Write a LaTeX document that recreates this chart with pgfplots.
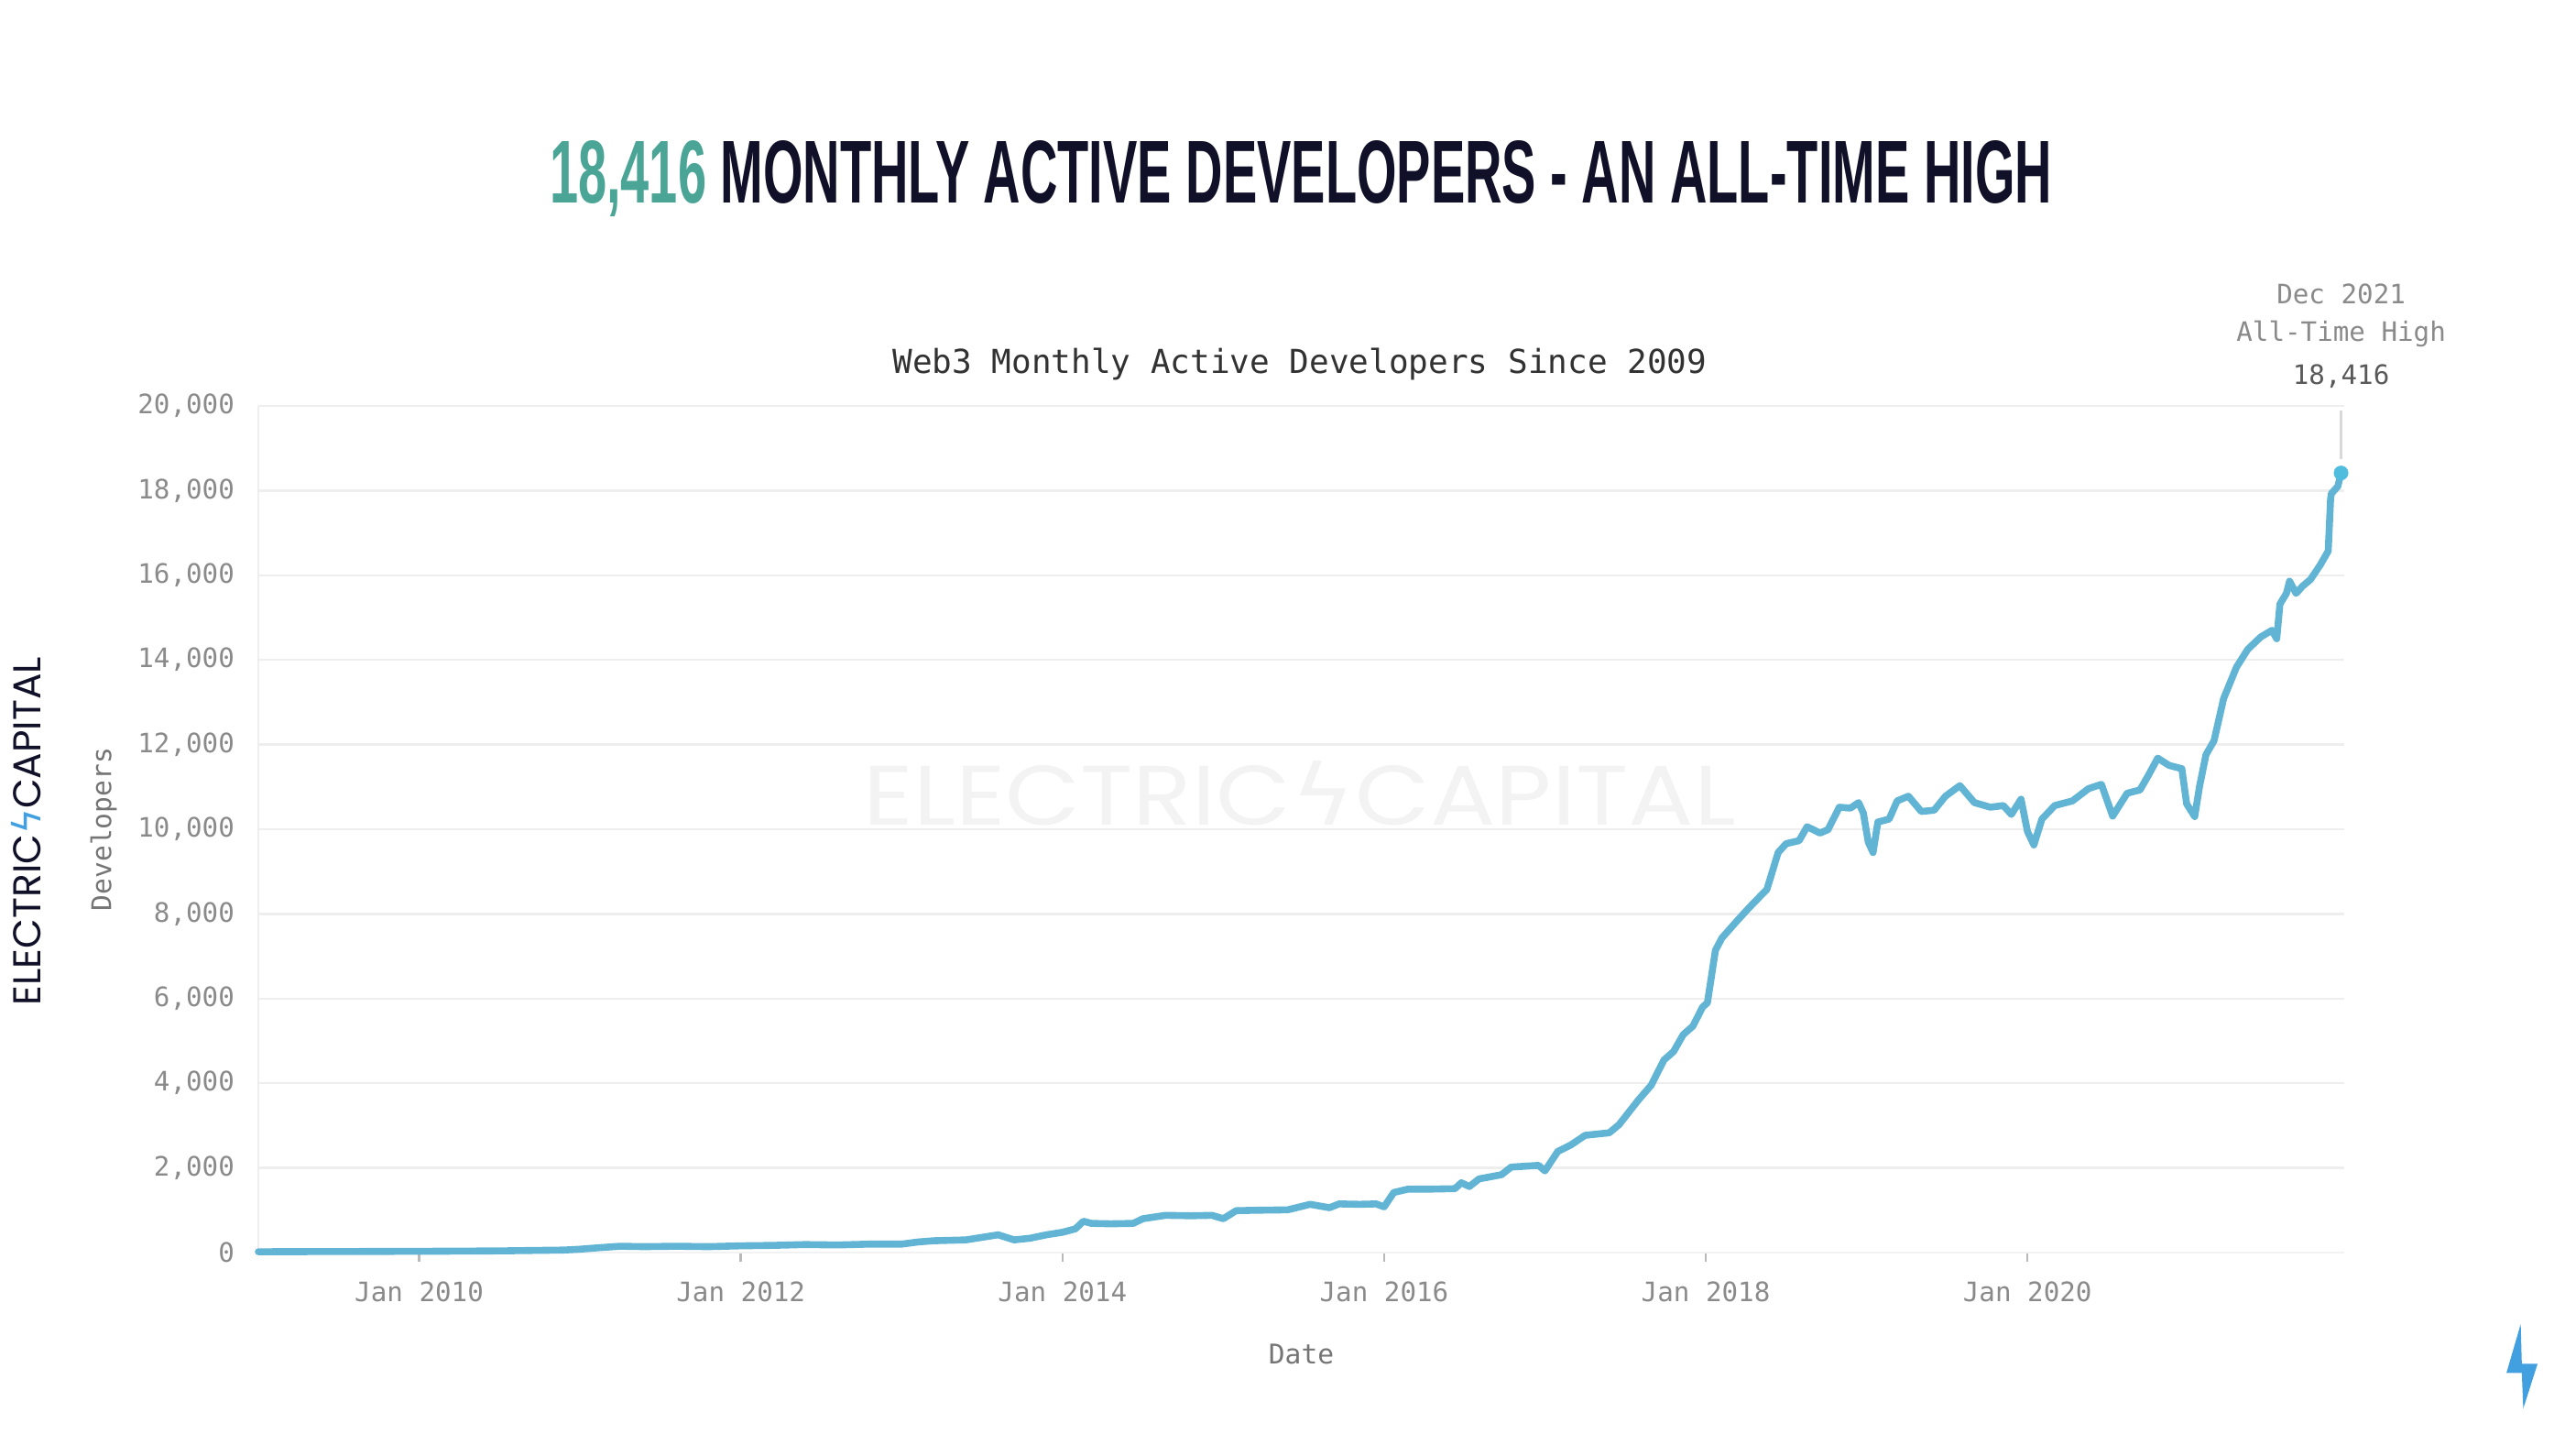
\documentclass[border=0pt]{standalone}
\usepackage{fontspec}
\usepackage{pgfplots}
\pgfplotsset{compat=1.18}
\setmainfont{DejaVu Sans}
\setmonofont{DejaVu Sans Mono}
\newfontfamily\titlefont{Liberation Sans}
\newfontfamily\logofont{Poppins}
\newfontfamily\symfont{DejaVu Sans}
\definecolor{lineblue}{RGB}{98,180,212}
\definecolor{dotblue}{RGB}{80,188,222}
\definecolor{titleteal}{RGB}{75,165,150}
\definecolor{titlenavy}{RGB}{16,16,40}
\definecolor{boltblue}{RGB}{66,160,224}
\definecolor{tickgray}{RGB}{138,138,138}
\definecolor{subgray}{RGB}{50,50,50}
\definecolor{gridgray}{RGB}{238,238,238}
\definecolor{wmgray}{RGB}{243,243,243}
\begin{document}
\begin{tikzpicture}
\path[use as bounding box] (0,0) rectangle (703pt,394pt);
% watermark behind the plot
\node[anchor=base, inner sep=0pt] at (354.7pt,169pt)
  {\resizebox{238pt}{17.5pt}{\color{wmgray}\logofont ELECTRIC{\symfont ϟ}CAPITAL}};
\begin{axis}[
  at={(70.5pt,52.25pt)}, anchor=south west,
  scale only axis, width=569.25pt, height=231pt,
  xmin=2009, xmax=2021.97, ymin=0, ymax=20000,
  axis x line*=bottom, axis y line*=left,
  axis line style={-},
  x axis line style={draw=gridgray!80!black!20, line width=0.7pt},
  y axis line style={draw=gridgray, line width=0.6pt},
  xtick={2010,2012,2014,2016,2018,2020},
  xticklabels={Jan 2010,Jan 2012,Jan 2014,Jan 2016,Jan 2018,Jan 2020},
  ytick={0,2000,...,20000},
  xtick align=outside,
  major tick length=2.5pt,
  x tick style={draw=tickgray!60, line width=0.6pt},
  y tick style={draw=none},
  ymajorgrids,
  grid style={draw=gridgray, line width=0.6pt},
  /pgf/number format/assume math mode=true,
  /pgf/number format/1000 sep={,},
  scaled y ticks=false,
  ticklabel style={font=\ttfamily\fontsize{7.3}{8}\selectfont, text=tickgray},
  yticklabel style={xshift=-3pt},
  xticklabel style={yshift=-2pt},
  xlabel={Date}, ylabel={Developers},
  label style={font=\ttfamily\fontsize{7.4}{8}\selectfont, text=tickgray!85!black},
  xlabel style={at={(axis description cs:0.5,-0.1201)}, anchor=center},
  ylabel style={at={(axis description cs:-0.0742,0.5)}, anchor=center, rotate=0},
  clip=false,
]
\addplot[color=lineblue, line width=1.9pt, line join=round, line cap=round] coordinates {
(2009.00,20) (2009.50,25) (2010.00,30) (2010.50,40) (2010.90,60) (2011.00,80)
(2011.10,110) (2011.25,150) (2011.40,140) (2011.60,150) (2011.80,140) (2012.00,160)
(2012.20,170) (2012.40,190) (2012.60,180) (2012.80,200) (2013.00,200) (2013.10,250)
(2013.20,280) (2013.40,300) (2013.50,360) (2013.60,420) (2013.70,300) (2013.80,340)
(2013.90,420) (2014.00,480) (2014.08,560) (2014.13,740) (2014.18,690) (2014.30,680)
(2014.44,690) (2014.50,800) (2014.64,880) (2014.80,870) (2014.93,880) (2015.00,800)
(2015.08,990) (2015.20,1000) (2015.40,1010) (2015.54,1140) (2015.66,1060) (2015.72,1150)
(2015.85,1140) (2015.95,1150) (2016.00,1080) (2016.06,1420) (2016.15,1500) (2016.30,1500)
(2016.44,1510) (2016.48,1650) (2016.53,1560) (2016.59,1740) (2016.73,1840) (2016.79,2020)
(2016.96,2060) (2017.00,1930) (2017.08,2390) (2017.16,2540) (2017.25,2770) (2017.40,2830)
(2017.46,3020) (2017.51,3260) (2017.58,3600) (2017.66,3950) (2017.74,4550) (2017.80,4750)
(2017.86,5150) (2017.92,5350) (2017.98,5800) (2018.01,5900) (2018.06,7140) (2018.10,7430)
(2018.20,7860) (2018.27,8150) (2018.38,8580) (2018.45,9450) (2018.50,9660) (2018.58,9730)
(2018.63,10060) (2018.71,9910) (2018.76,9990) (2018.83,10520) (2018.90,10500) (2018.95,10630)
(2018.98,10380) (2019.01,9700) (2019.04,9450) (2019.07,10170) (2019.14,10240) (2019.19,10670)
(2019.26,10780) (2019.34,10420) (2019.42,10450) (2019.49,10780) (2019.58,11030) (2019.67,10630)
(2019.77,10520) (2019.85,10560) (2019.90,10350) (2019.96,10710) (2020.00,9950) (2020.04,9630)
(2020.09,10240) (2020.17,10560) (2020.28,10670) (2020.38,10960) (2020.46,11060) (2020.53,10310)
(2020.62,10850) (2020.70,10930) (2020.75,11260) (2020.81,11680) (2020.88,11510) (2020.96,11430)
(2020.99,10600) (2021.04,10300) (2021.07,11010) (2021.11,11760) (2021.16,12090) (2021.22,13090)
(2021.30,13830) (2021.37,14250) (2021.45,14540) (2021.52,14700) (2021.55,14500) (2021.57,15320)
(2021.61,15570) (2021.63,15860) (2021.67,15570) (2021.71,15740) (2021.76,15900) (2021.82,16240)
(2021.87,16570) (2021.885,17810) (2021.89,17930) (2021.93,18100) (2021.95,18416)
};
\draw[color=gray!30, line width=0.8pt] (axis cs:2021.95,18750) -- (axis cs:2021.95,19900);
\addplot[only marks, mark=*, mark size=1.8pt, color=dotblue] coordinates {(2021.95,18416)};
\end{axis}
% title
\node[anchor=base, inner sep=0pt] at (355pt,338.5pt)
  {\resizebox{410pt}{17pt}{\titlefont\bfseries\textcolor{titleteal}{18,416} \textcolor{titlenavy}{MONTHLY ACTIVE DEVELOPERS - AN ALL-TIME HIGH}}};
% subtitle
\node[anchor=base, inner sep=0pt] at (354.7pt,292.2pt)
  {\ttfamily\fontsize{9}{10}\selectfont\color{subgray}Web3 Monthly Active Developers Since 2009};
% annotation
\node[anchor=base, inner sep=0pt] at (638.9pt,311pt)
  {\ttfamily\fontsize{7.3}{8}\selectfont\color{tickgray}Dec 2021};
\node[anchor=base, inner sep=0pt] at (638.9pt,300.75pt)
  {\ttfamily\fontsize{7.3}{8}\selectfont\color{tickgray}All-Time High};
\node[anchor=base, inner sep=0pt] at (638.9pt,289pt)
  {\ttfamily\fontsize{7.3}{8}\selectfont\color{gray!70!black}18,416};
% left logo
\node[rotate=90, inner sep=0pt] at (7.2pt,167.25pt)
  {\resizebox{95pt}{!}{\logofont\color{titlenavy}ELECTRIC{\symfont\color{boltblue}ϟ}CAPITAL}};
% bottom-right bolt
\fill[boltblue] (687.9pt,32.75pt) -- (688.2pt,21.9pt) -- (692.5pt,21.9pt) -- (688.6pt,9.7pt) -- (688.2pt,19.4pt) -- (684pt,19.4pt) -- cycle;
\end{tikzpicture}
\end{document}
